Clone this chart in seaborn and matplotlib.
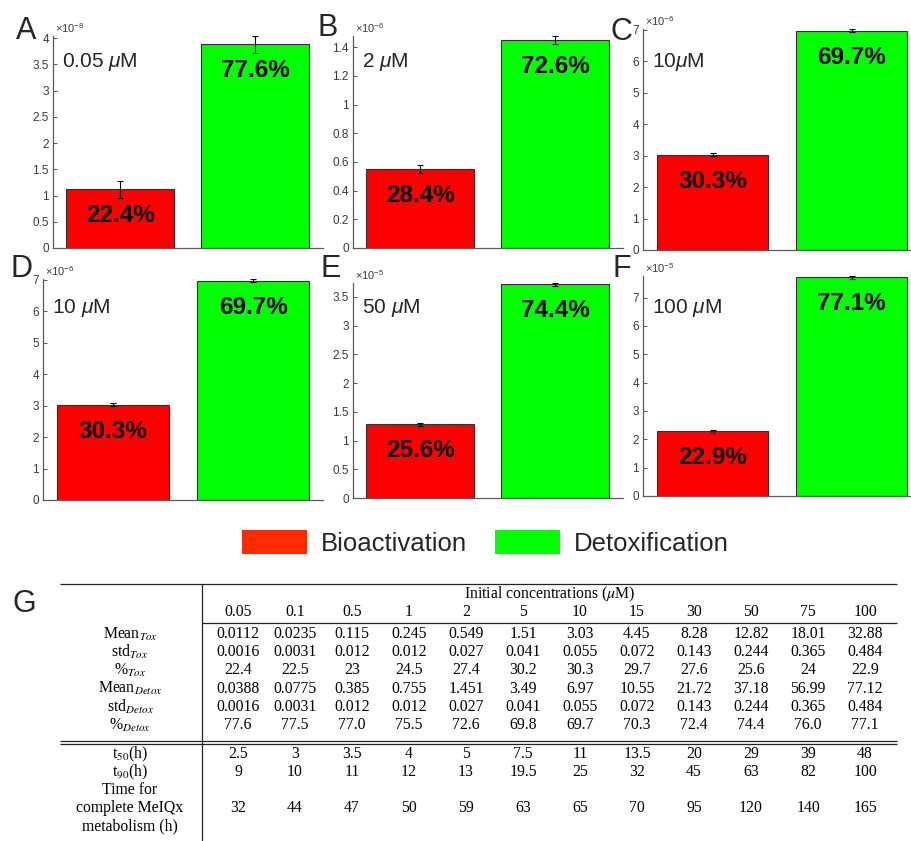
import numpy as np
import matplotlib
matplotlib.use('Agg')
import matplotlib.pyplot as plt
from matplotlib.patches import Patch
from matplotlib.ticker import FuncFormatter
import pandas as pd
import seaborn as sns

sns.set_theme(style='white')
plt.rcParams['font.family'] = ['Liberation Sans', 'DejaVu Sans']
plt.rcParams['mathtext.fontset'] = 'custom'
plt.rcParams['mathtext.rm'] = 'Liberation Sans'
plt.rcParams['mathtext.it'] = 'Liberation Sans:italic'

# bar panels (values in M)
panel_letters = ['A', 'B', 'C', 'D', 'E', 'F']
conc_labels = ['0.05 $\\mu$M', '2 $\\mu$M', '10$\\mu$M', '10 $\\mu$M', '50 $\\mu$M', '100 $\\mu$M']
tox_mean = [1.12e-8, 0.549e-6, 3.03e-6, 3.03e-6, 1.282e-5, 2.288e-5]
tox_std = [0.16e-8, 0.027e-6, 0.055e-6, 0.055e-6, 0.0244e-5, 0.0484e-5]
detox_mean = [3.88e-8, 1.451e-6, 6.97e-6, 6.97e-6, 3.718e-5, 7.712e-5]
detox_std = [0.16e-8, 0.027e-6, 0.055e-6, 0.055e-6, 0.0244e-5, 0.0484e-5]
tox_pct = ['22.4', '28.4', '30.3', '30.3', '25.6', '22.9']
detox_pct = ['77.6', '72.6', '69.7', '69.7', '74.4', '77.1']
exps = [-8, -6, -6, -6, -5, -5]
tick_step = [0.5, 0.2, 1, 1, 0.5, 1]
tick_max = [4, 1.4, 7, 7, 3.5, 7]
processes = ['Bioactivation', 'Detoxification']

# table G
table_cols = ['0.05', '0.1', '0.5', '1', '2', '5', '10', '15', '30', '50', '75', '100']
mean_tox = ['0.0112', '0.0235', '0.115', '0.245', '0.549', '1.51', '3.03', '4.45', '8.28', '12.82', '18.01', '32.88']
std_tox = ['0.0016', '0.0031', '0.012', '0.012', '0.027', '0.041', '0.055', '0.072', '0.143', '0.244', '0.365', '0.484']
pct_tox = ['22.4', '22.5', '23', '24.5', '27.4', '30.2', '30.3', '29.7', '27.6', '25.6', '24', '22.9']
mean_detox = ['0.0388', '0.0775', '0.385', '0.755', '1.451', '3.49', '6.97', '10.55', '21.72', '37.18', '56.99', '77.12']
std_detox = ['0.0016', '0.0031', '0.012', '0.012', '0.027', '0.041', '0.055', '0.072', '0.143', '0.244', '0.365', '0.484']
pct_detox = ['77.6', '77.5', '77.0', '75.5', '72.6', '69.8', '69.7', '70.3', '72.4', '74.4', '76.0', '77.1']
t50 = ['2.5', '3', '3.5', '4', '5', '7.5', '11', '13.5', '20', '29', '39', '48']
t90 = ['9', '10', '11', '12', '13', '19.5', '25', '32', '45', '63', '82', '100']
t_complete = ['32', '44', '47', '50', '59', '63', '65', '70', '95', '120', '140', '165']

W, H = 912, 841
RED, GREEN = '#ff0000', '#00ff00'
AX_COL = '#3a3a3a'

fig = plt.figure(figsize=(W / 100, H / 100), dpi=100)

# axes boxes in pixels: left, top, right, bottom
boxes = [(53, 36, 323, 248), (353, 36, 623, 248), (643, 29, 921, 250),
         (43, 279, 323, 500), (353, 283, 623, 498), (643, 276, 921, 496)]
letter_pos = [(26, 39), (328, 36), (621, 40), (22, 277), (331, 277), (622, 277)]


def fig_xy(x, y):
    return x / W, 1 - y / H


for i in range(6):
    l, t, r, b = boxes[i]
    ax = fig.add_axes([l / W, 1 - b / H, (r - l) / W, (b - t) / H])
    df = pd.DataFrame({'process': processes, 'value': [tox_mean[i], detox_mean[i]]})
    sns.barplot(data=df, x='process', y='value', hue='process', palette=[RED, GREEN],
                width=0.8, saturation=1, edgecolor='#303030', linewidth=0.8,
                errorbar=None, legend=False, ax=ax)
    ax.errorbar([0, 1], df['value'], yerr=[tox_std[i], detox_std[i]], fmt='none',
                ecolor='black', elinewidth=0.8, capsize=2.5, capthick=0.8)
    scale = 10.0 ** exps[i]
    ax.set_xlim(-0.5, 1.5)
    ax.set_ylim(0, max(tox_mean[i] + tox_std[i], detox_mean[i] + detox_std[i]))
    ax.set_yticks(np.arange(0, tick_max[i] + tick_step[i] / 2, tick_step[i]) * scale)
    ax.yaxis.set_major_formatter(FuncFormatter(lambda v, p, s=scale: f'{round(v / s, 4):g}'))
    ax.set_xticks([])
    ax.set_xlabel('')
    ax.set_ylabel('')
    ax.tick_params(axis='y', direction='in', length=3, width=0.6, pad=3,
                   labelsize=8.5, colors=AX_COL, labelcolor=AX_COL, left=True)
    for s in ['top', 'right']:
        ax.spines[s].set_visible(False)
    for s in ['left', 'bottom']:
        ax.spines[s].set_color('#5a5a5a')
        ax.spines[s].set_linewidth(0.9)
    ax.annotate(r'$\times10^{%d}$' % exps[i], xy=(0, 1), xycoords='axes fraction',
                xytext=(2, 1), textcoords='offset pixels', ha='left', va='bottom',
                fontsize=8, color=AX_COL)
    for j, pct in enumerate([tox_pct[i], detox_pct[i]]):
        ax.annotate(pct + '%', xy=(j, df['value'][j]), xytext=(0, -33),
                    textcoords='offset pixels', ha='center', va='baseline',
                    fontsize=17.5, fontweight='bold', color='black')
    ty = 67 if i < 3 else 313
    fig.text(*fig_xy(l + 9, ty), conc_labels[i], ha='left', va='baseline', fontsize=15)
    fig.text(*fig_xy(*letter_pos[i]), panel_letters[i], ha='center', va='baseline', fontsize=22)

# legend
handles = [Patch(facecolor='#ff2a00', edgecolor='none'), Patch(facecolor=GREEN, edgecolor='none')]
fig.legend(handles, processes, loc='center', bbox_to_anchor=fig_xy(485.5, 543), ncol=2,
           frameon=False, fontsize=18.5, handlelength=2.53, handleheight=1.05,
           handletextpad=0.545, columnspacing=1.09, borderpad=0, borderaxespad=0)

# table G
ax_t = fig.add_axes([0, 0, 1, 261 / H])
ax_t.axis('off')
c0, dc = 238, 57
r0, dr = 634, 18.2


def cx(px):
    return (px - c0) / dc


def ry(py):
    return (py - r0) / dr


ax_t.set_xlim(cx(0), cx(W))
ax_t.set_ylim(ry(H), ry(580))

tkw = dict(fontfamily='Liberation Serif', fontsize=11.3, math_fontfamily='stix', color='black')
line_kw = dict(color='#222222', lw=0.9)

ax_t.hlines(ry(584), cx(60), cx(897), **line_kw)
ax_t.hlines(ry(623), cx(202), cx(897), **line_kw)
ax_t.hlines([ry(741), ry(744)], cx(60), cx(897), **line_kw)
ax_t.vlines(cx(202), ry(584), ry(H), **line_kw)

ax_t.text((cx(202) + cx(897)) / 2, ry(594), 'Initial concentrations ($\\mu$M)', ha='center', va='center', **tkw)
for k, c in enumerate(table_cols):
    ax_t.text(k, ry(612), c, ha='center', va='center', **tkw)

row_labels = ['Mean$_{Tox}$', 'std$_{Tox}$', '%$_{Tox}$', 'Mean$_{Detox}$', 'std$_{Detox}$', '%$_{Detox}$']
row_values = [mean_tox, std_tox, pct_tox, mean_detox, std_detox, pct_detox]
for r, (lab, vals) in enumerate(zip(row_labels, row_values)):
    ax_t.text(cx(130), r, lab, ha='center', va='center', **tkw)
    for k, v in enumerate(vals):
        ax_t.text(k, r, v, ha='center', va='center', **tkw)

time_rows = [('t$_{50}$(h)', t50, 754), ('t$_{90}$(h)', t90, 772),
             ('Time for\ncomplete MeIQx\nmetabolism (h)', t_complete, 808)]
for lab, vals, py in time_rows:
    ax_t.text(cx(130), ry(py), lab, ha='center', va='center', multialignment='center',
              linespacing=1.2, **tkw)
    for k, v in enumerate(vals):
        ax_t.text(k, ry(py), v, ha='center', va='center', **tkw)

fig.text(*fig_xy(24, 612), 'G', ha='center', va='baseline', fontsize=22)

fig.savefig('out.png', dpi=100)
